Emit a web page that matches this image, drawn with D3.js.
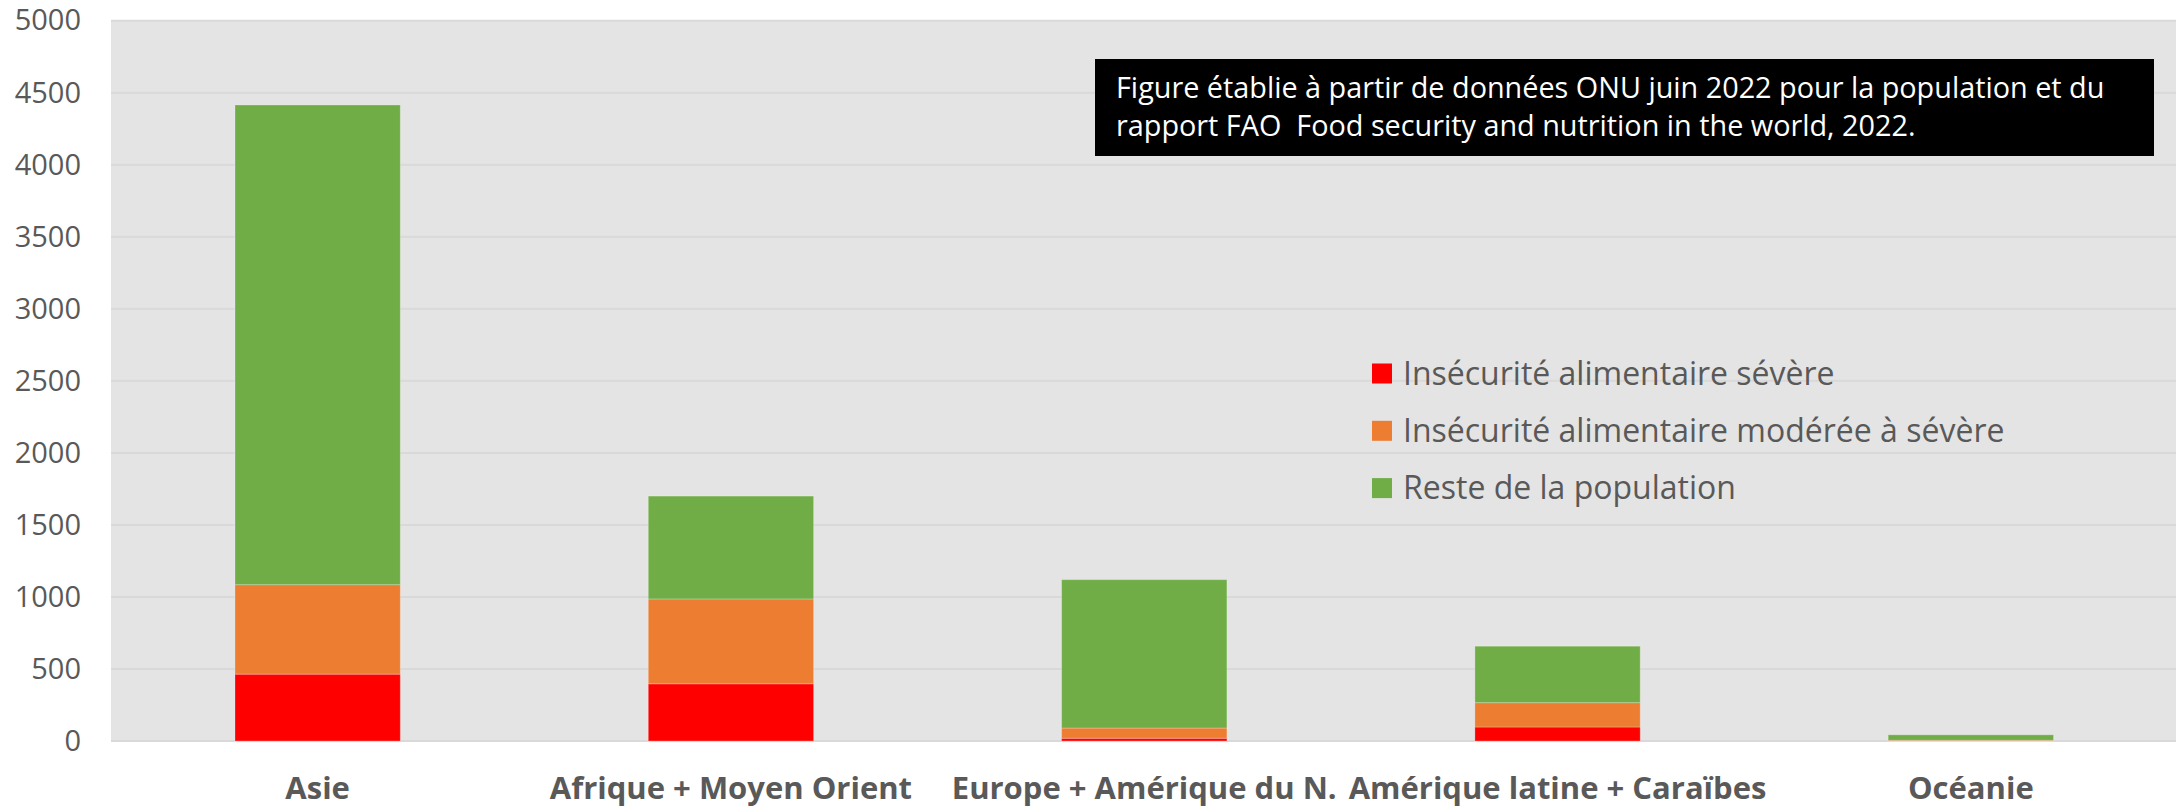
<!DOCTYPE html>
<html>
<head>
<meta charset="utf-8">
<script src="https://cdn.jsdelivr.net/npm/d3@7"></script>
<style>
  body { margin: 0; background: #fff; }
  svg { display: block; font-family: "Open Sans", sans-serif; }
</style>
</head>
<body>
<script>
// data (millions of people)
var categories = ["Asie", "Afrique + Moyen Orient", "Europe + Amérique du N.", "Amérique latine + Caraïbes", "Océanie"];
var severe = [464, 397, 19, 97, 2];
var moderate = [621, 589, 71, 169, 3];
var rest = [3330, 714, 1030, 392, 38];
var seriesNames = ["Insécurité alimentaire sévère", "Insécurité alimentaire modérée à sévère", "Reste de la population"];
var seriesColors = ["#ff0000", "#ed7d31", "#70ad47"];
var yTicks = [0, 500, 1000, 1500, 2000, 2500, 3000, 3500, 4000, 4500, 5000];
var noteLines = [
  "Figure établie à partir de données ONU juin 2022 pour la population et du",
  "rapport FAO  Food security and nutrition in the world, 2022."
];

var width = 2176, height = 807;
var plot = {left: 111, right: 2177.5, top: 20.7, bottom: 741};

var svg = d3.select("body").append("svg")
    .attr("width", width)
    .attr("height", height);

// plot background
svg.append("rect")
    .attr("x", plot.left).attr("y", plot.top)
    .attr("width", plot.right - plot.left).attr("height", plot.bottom - plot.top)
    .attr("fill", "#e4e4e4");

var x = d3.scaleBand()
    .domain(categories)
    .range([plot.left, plot.right])
    .paddingInner(0.6)
    .paddingOuter(0.3);

var y = d3.scaleLinear()
    .domain([0, 5000])
    .range([plot.bottom, plot.top]);

// gridlines
svg.append("g").selectAll("line")
    .data(yTicks)
    .enter().append("line")
    .attr("x1", plot.left).attr("x2", plot.right)
    .attr("y1", function(d) { return y(d); })
    .attr("y2", function(d) { return y(d); })
    .attr("stroke", "#d9d9d9")
    .attr("stroke-width", 2);

// y axis labels
var yAxis = svg.append("g")
    .attr("transform", "translate(" + (plot.left - 30) + ",0)")
    .call(d3.axisLeft(y).tickValues(yTicks).tickFormat(d3.format("d")).tickSize(0).tickPadding(0));
yAxis.select(".domain").remove();
yAxis.selectAll("text")
    .attr("fill", "#595959")
    .style("font-family", "Open Sans")
    .style("font-size", "29px");

// stacked bars
var rows = categories.map(function(c, i) {
    return {cat: c, s0: severe[i], s1: moderate[i], s2: rest[i]};
});
var stack = d3.stack().keys(["s0", "s1", "s2"]);
var layers = stack(rows);

svg.append("g").selectAll("g")
    .data(layers)
    .enter().append("g")
    .attr("fill", function(d, i) { return seriesColors[i]; })
    .selectAll("rect")
    .data(function(d) { return d; })
    .enter().append("rect")
    .attr("x", function(d) { return x(d.data.cat); })
    .attr("width", x.bandwidth())
    .attr("y", function(d) { return y(d[1]); })
    .attr("height", function(d) { return y(d[0]) - y(d[1]); })
    .attr("stroke", "#ffffff")
    .attr("stroke-opacity", 0.25)
    .attr("stroke-width", 1);

// category labels
svg.append("g").selectAll("text")
    .data(categories)
    .enter().append("text")
    .attr("x", function(d) { return x(d) + x.bandwidth() / 2; })
    .attr("y", 799)
    .attr("text-anchor", "middle")
    .attr("fill", "#595959")
    .style("font-weight", "bold")
    .style("font-size", "31px")
    .text(function(d) { return d; });

// legend
var legend = svg.append("g").selectAll("g")
    .data(seriesNames)
    .enter().append("g")
    .attr("transform", function(d, i) { return "translate(1372," + (373.5 + i * 57.3) + ")"; });

legend.append("rect")
    .attr("x", 0).attr("y", -10)
    .attr("width", 20).attr("height", 20)
    .attr("fill", function(d, i) { return seriesColors[i]; });

legend.append("text")
    .attr("x", 31)
    .attr("y", 0)
    .attr("dy", "0.35em")
    .attr("fill", "#595959")
    .style("font-size", "32px")
    .text(function(d) { return d; });

// note box
svg.append("rect")
    .attr("x", 1095).attr("y", 59)
    .attr("width", 1059).attr("height", 97)
    .attr("fill", "#000");

svg.append("g").selectAll("text")
    .data(noteLines)
    .enter().append("text")
    .attr("x", 1116)
    .attr("y", function(d, i) { return 98 + i * 38; })
    .attr("fill", "#fff")
    .style("white-space", "pre")
    .style("font-size", "28.8px")
    .text(function(d) { return d; });
</script>
</body>
</html>
